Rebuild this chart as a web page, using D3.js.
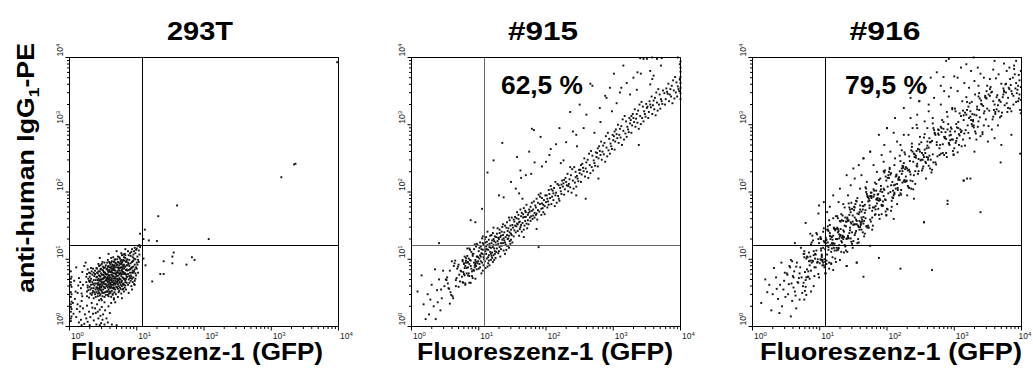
<!DOCTYPE html>
<html>
<head>
<meta charset="utf-8">
<script src="https://cdn.jsdelivr.net/npm/d3@7"></script>
<style>
  body { margin: 0; background: #fff; }
  text { font-family: "Liberation Sans", Arial, sans-serif; }
</style>
</head>
<body>
<div id="chart"></div>
<script>
// every event as [log10 GFP, log10 anti-human IgG1-PE]
var cells293T = [
  [0.27,0.61],[0.33,0.47],[0.25,0.74],[0.38,0.83],[0.31,0.55],[0.36,0.69],[0.29,0.80],[0.40,0.58],[0.26,0.52],[0.34,0.77],[0.39,0.44],[0.30,0.66],[0.37,0.51],[0.28,0.71],[0.35,0.86],[0.32,0.62],
  [0.40,0.73],[0.26,0.45],[0.38,0.64],[0.33,0.57],[0.29,0.68],[0.36,0.42],[0.31,0.79],[0.39,0.55],[0.27,0.85],[0.34,0.50],[0.37,0.75],[0.30,0.59],[0.25,0.66],[0.35,0.63],[0.32,0.71],[0.38,0.48],
  [0.28,0.54],[0.40,0.87],[0.33,0.82],[0.36,0.57],[0.29,0.43],[0.31,0.49],[0.39,0.69],[0.26,0.78],[0.34,0.66],[0.37,0.61],[0.30,0.74],[0.27,0.58],[0.35,0.53],[0.32,0.87],[0.38,0.78],[0.31,0.68],
  [0.36,0.80],[0.40,0.51],
  [0.44,0.62],[0.51,0.81],[0.42,0.45],[0.48,0.93],[0.53,0.57],[0.46,0.74],[0.41,0.86],[0.55,0.68],[0.49,0.50],[0.43,0.71],[0.52,0.95],[0.47,0.41],[0.54,0.78],[0.45,0.55],[0.50,0.66],[0.42,0.79],
  [0.48,0.60],[0.53,0.88],[0.46,0.48],[0.51,0.72],[0.44,0.90],[0.55,0.52],[0.49,0.84],[0.41,0.58],[0.47,0.67],[0.52,0.44],[0.45,0.82],[0.54,0.63],[0.43,0.53],[0.50,0.77],[0.48,0.39],[0.42,0.69],
  [0.53,0.74],[0.46,0.91],[0.51,0.59],[0.44,0.76],[0.55,0.85],[0.49,0.71],[0.47,0.54],[0.41,0.64],[0.52,0.67],[0.45,0.46],[0.50,0.89],[0.43,0.82],[0.54,0.47],[0.48,0.77],[0.46,0.63],[0.53,0.63],
  [0.42,0.56],[0.51,0.50],[0.44,0.68],[0.49,0.96],[0.55,0.72],[0.47,0.86],[0.41,0.74],[0.52,0.80],[0.45,0.60],[0.50,0.55],[0.43,0.93],[0.48,0.65],[0.54,0.91],[0.46,0.70],[0.51,0.64],[0.42,0.49],
  [0.53,0.51],[0.47,0.79],[0.44,0.57],[0.50,0.83],[0.55,0.60],[0.49,0.45],[0.41,0.80],[0.52,0.73],[0.45,0.75],[0.48,0.52],[0.54,0.69],[0.43,0.65],[0.46,0.85],[0.51,0.87],[0.47,0.58],[0.53,0.80],
  [0.42,0.62],[0.49,0.62],[0.55,0.77],[0.44,0.50],[0.50,0.71],[0.46,0.58],[0.52,0.58],[0.48,0.70],[0.45,0.69],[0.51,0.76],
  [0.57,0.66],[0.63,0.83],[0.59,0.49],[0.68,0.95],[0.56,0.78],[0.65,0.58],[0.61,0.92],[0.69,0.71],[0.58,0.55],[0.66,0.87],[0.62,0.44],[0.57,0.99],[0.64,0.66],[0.70,0.80],[0.60,0.73],[0.67,0.51],
  [0.56,0.61],[0.63,0.97],[0.59,0.84],[0.68,0.62],[0.61,0.57],[0.65,0.75],[0.58,0.90],[0.66,0.42],[0.62,0.69],[0.69,0.88],[0.57,0.47],[0.64,0.80],[0.60,0.64],[0.67,0.99],[0.56,0.86],[0.63,0.53],
  [0.70,0.67],[0.59,0.76],[0.65,0.91],[0.61,0.81],[0.68,0.55],[0.58,0.70],[0.66,0.64],[0.62,1.02],[0.57,0.58],[0.64,0.47],[0.69,0.78],[0.60,0.94],[0.67,0.72],[0.56,0.69],[0.63,0.62],[0.59,0.60],
  [0.65,0.84],[0.61,0.50],[0.68,0.83],[0.58,0.81],[0.66,0.96],[0.62,0.77],[0.70,0.59],[0.57,0.74],[0.64,0.92],[0.60,0.52],[0.67,0.65],[0.56,0.95],[0.63,0.71],[0.69,0.48],[0.59,0.67],[0.65,0.68],
  [0.61,0.65],[0.68,0.74],[0.58,0.63],[0.66,0.79],[0.62,0.86],[0.57,0.83],[0.64,0.57],[0.70,0.91],[0.60,0.82],[0.67,0.84],[0.56,0.52],[0.63,0.89],[0.59,0.96],[0.65,0.49],[0.61,0.73],[0.68,1.00],
  [0.58,0.45],[0.66,0.71],[0.62,0.59],[0.69,0.64],[0.57,0.89],[0.64,0.74],[0.60,0.58],[0.67,0.91],[0.56,0.72],[0.63,0.77],[0.65,1.03],[0.61,0.88],[0.68,0.68],[0.59,0.72],[0.66,0.56],[0.62,0.95],
  [0.70,0.75],[0.57,0.52],[0.64,0.86],[0.60,0.69],[0.67,0.58],[0.58,0.77],[0.65,0.62],[0.61,0.62],[0.69,0.94],[0.63,0.66],[0.66,0.89],[0.59,0.88],[0.62,0.81],[0.68,0.79],
  [0.72,0.69],[0.78,0.88],[0.74,0.53],[0.83,1.02],[0.71,0.82],[0.80,0.64],[0.76,0.97],[0.84,0.77],[0.73,0.60],[0.81,0.92],[0.77,0.49],[0.72,1.04],[0.79,0.73],[0.85,0.85],[0.75,0.78],[0.82,0.58],
  [0.71,0.66],[0.78,1.06],[0.74,0.91],[0.83,0.69],[0.76,0.62],[0.80,0.81],[0.73,0.95],[0.81,0.52],[0.77,0.75],[0.84,0.96],[0.72,0.56],[0.79,0.87],[0.75,0.70],[0.82,1.08],[0.71,0.92],[0.78,0.60],
  [0.85,0.74],[0.74,0.83],[0.80,0.99],[0.76,0.88],[0.83,0.61],[0.73,0.76],[0.81,0.71],[0.77,1.09],[0.72,0.63],[0.79,0.55],[0.84,0.84],[0.75,1.01],[0.82,0.79],[0.71,0.75],[0.78,0.68],[0.74,0.66],
  [0.80,0.90],[0.76,0.56],[0.83,0.89],[0.73,0.87],[0.81,1.03],[0.77,0.83],[0.85,0.65],[0.72,0.80],[0.79,0.97],[0.75,0.58],[0.82,0.70],[0.71,1.00],[0.78,0.78],[0.84,0.55],[0.74,0.72],[0.80,0.72],
  [0.76,0.70],[0.83,0.79],[0.73,0.69],[0.81,0.86],[0.77,0.93],[0.72,0.88],[0.79,0.63],[0.85,0.98],[0.75,0.87],[0.82,0.89],[0.71,0.58],[0.78,0.95],[0.74,1.03],[0.80,0.56],[0.76,0.80],[0.83,1.06],
  [0.73,0.51],[0.81,0.78],[0.77,0.66],[0.84,0.71],[0.72,0.96],[0.79,0.81],[0.75,0.65],[0.82,0.98],[0.71,0.71],[0.78,0.84],[0.80,1.07],[0.76,0.93],[0.83,0.66],[0.74,0.79],[0.81,0.62],[0.77,0.99],
  [0.85,0.91],[0.73,0.84],[0.79,0.91],[0.75,0.94],
  [0.87,0.78],[0.93,0.96],[0.89,0.65],[0.98,1.09],[0.86,0.91],[0.95,0.73],[0.91,1.05],[0.99,0.88],[0.88,0.70],[0.96,1.01],[0.92,0.60],[0.87,1.12],[0.94,0.83],[1.00,0.95],[0.90,0.85],[0.97,0.68],
  [0.86,0.74],[0.93,1.15],[0.89,0.99],[0.98,0.79],[0.91,0.76],[0.95,0.89],[0.88,1.06],[0.96,0.63],[0.92,0.87],[1.01,1.04],[0.87,0.62],[0.94,0.97],[0.90,0.80],[0.97,1.17],[0.86,1.00],[0.93,0.71],
  [1.02,0.99],[0.89,0.90],[0.95,1.07],[0.91,0.94],[0.99,0.76],[0.88,0.84],[0.96,0.82],[0.92,1.11],[1.03,1.13],[0.94,0.66],[1.00,0.86],[0.90,1.09],[0.97,0.92],[0.86,0.83],[0.93,0.80],[0.89,0.75],
  [0.98,1.00],[0.91,0.68],[1.04,1.07],[0.95,0.98],[0.87,0.95],[0.96,1.12],[0.92,0.74],[1.01,0.92],[0.88,0.93],[0.94,1.03],[0.99,1.14],[0.90,0.72],[1.05,1.18],[0.97,0.85],[1.02,1.20],[0.93,0.88],
  [0.98,0.71],[1.00,1.16],[0.95,0.80],[1.03,0.96],[0.91,0.86],[1.04,1.21],
  [0.14,0.72],[0.19,0.81],[0.22,0.90],[0.12,0.50],[0.20,0.62],[0.18,0.49],[0.45,1.02],[0.58,1.08],[0.70,1.12],[0.83,1.15],[0.93,0.55],[0.88,0.50],[0.78,0.42],[0.68,0.36],[0.72,0.44],[0.97,0.62],
  [1.02,0.80],[0.24,0.95],[0.10,0.88],[0.16,0.66],
  [0.08,0.41],[0.12,0.33],[0.15,0.22],[0.10,0.14],[0.18,0.38],[0.14,0.06],[0.20,0.27],[0.23,0.18],[0.17,0.10],[0.26,0.31],[0.29,0.22],[0.22,0.04],[0.31,0.14],[0.34,0.28],[0.36,0.09],[0.39,0.20],
  [0.41,0.33],[0.43,0.12],[0.45,0.25],[0.47,0.05],[0.50,0.18],[0.52,0.36],[0.48,0.29],[0.55,0.12],[0.44,0.39],[0.40,0.03],[0.33,0.35],[0.27,0.07],[0.19,0.45],[0.11,0.26],[0.06,0.19],[0.58,0.30],
  [0.53,0.24],[0.46,0.16],[0.38,0.27],[0.57,0.06],[0.62,0.35],[0.66,0.40],[0.25,0.12],[0.16,0.30],[0.09,0.52],[0.13,0.61],[0.07,0.68],[0.17,0.57],[0.05,0.35],[0.42,0.22],[0.35,0.19],[0.49,0.10],
  [0.60,0.20],
  [0.02,0.82],[0.03,0.74],[0.02,0.66],[0.03,0.59],[0.02,0.51],[0.02,0.44],[0.03,0.37],[0.02,0.29],[0.02,0.22],[0.03,0.15],[0.02,0.08],[0.02,0.62],[0.03,0.48],[0.02,0.33],[0.02,0.71],[0.03,0.26],
  [0.02,0.12],[0.30,0.02],[0.45,0.02],[0.52,0.03],[0.18,0.02],[0.63,0.03],[0.70,0.02],
  [3.98,3.93],[3.36,2.42],[3.34,2.41],[3.15,2.22],[1.60,1.80],[1.32,1.64],[1.12,1.44],[1.05,1.38],[1.10,1.30],[1.18,1.28],[1.30,1.27],[2.07,1.30],
  [1.55,1.10],[1.53,1.04],[1.40,0.97],[1.53,0.94],[1.82,1.03],[1.86,0.99],[1.74,0.92],[1.35,0.78],[1.40,0.78],[1.23,0.67],[1.13,0.91],[1.10,1.01]
];

var cells915 = [
  [0.15,0.76],[0.21,0.11],[0.36,0.11],[0.24,0.48],[0.30,0.62],[0.33,0.30],[0.38,0.54],[0.41,0.70],[0.45,0.42],[0.47,0.83],[0.28,0.40],[0.43,0.24],[0.49,0.60],[0.18,0.33],[0.41,1.24],[0.35,0.85],
  [0.09,0.52],[0.26,0.18],[0.44,0.55],[0.39,0.36],
  [0.58,0.51],[0.52,0.69],[0.71,0.77],[0.64,0.94],[0.55,0.57],[0.69,0.89],[0.61,0.45],[0.74,0.82],[0.57,0.83],[0.66,0.69],[0.53,0.73],[0.72,0.67],[0.60,0.97],[0.67,0.72],[0.51,0.70],[0.70,0.59],
  [0.63,0.90],[0.56,0.56],[0.73,0.83],[0.59,0.47],[0.68,0.86],[0.54,0.64],[0.65,0.98],[0.62,0.42],[0.75,0.74],[0.57,0.34],[0.70,0.92],[0.66,0.60],
  [0.83,0.95],[0.77,0.81],[0.96,1.19],[0.88,0.65],[0.79,0.87],[0.92,0.84],[0.85,1.01],[0.99,0.97],[0.76,0.99],[0.90,0.75],[0.81,0.95],[0.94,0.88],[0.87,1.14],[0.78,0.78],[0.97,1.04],[0.84,0.76],
  [0.91,1.08],[0.80,0.62],[0.95,0.99],[0.86,0.75],[0.98,1.21],[0.82,0.79],[0.89,1.11],[0.93,0.95],[0.76,0.66],[0.88,0.98],[0.84,0.88],[0.97,1.23],[0.79,0.76],[0.92,1.08],[0.86,0.65],[0.99,1.03],
  [0.81,1.02],[0.95,0.93],[0.78,0.94],[0.90,0.82],[0.83,1.16],[0.96,0.96],[0.87,0.99],[0.77,0.65],[0.93,1.15],[0.85,0.79],[0.98,1.04],[0.80,0.64],[0.91,1.05],[0.82,0.87],[0.94,1.22],[0.89,0.86],
  [0.76,0.97],[0.97,0.85],[0.84,0.96],[0.88,0.90],[0.79,1.04],[0.95,0.71],[0.86,0.93],[0.93,0.83],[0.81,0.98],[0.98,0.94],[0.83,1.05],[0.91,0.72],[0.78,0.93],[0.96,0.90],[0.86,1.16],[0.94,0.91],
  [0.80,0.90],
  [1.07,1.21],[1.02,0.88],[1.19,1.05],[1.11,1.33],[1.04,1.09],[1.23,1.27],[1.14,0.94],[1.09,1.15],[1.21,1.39],[1.01,1.01],[1.16,1.18],[1.06,0.83],[1.24,1.12],[1.12,1.26],[1.03,1.19],[1.18,0.99],
  [1.08,1.07],[1.22,1.21],[1.13,1.41],[1.05,0.95],[1.20,1.10],[1.10,0.87],[1.00,1.12],[1.15,1.29],[1.25,1.02],[1.07,1.03],[1.17,1.35],[1.02,1.25],[1.23,1.16],[1.11,1.08],[1.04,0.79],[1.19,1.24],
  [1.14,1.14],[1.09,1.30],[1.21,0.96],[1.06,1.14],[1.16,0.91],[1.01,0.93],[1.24,1.34],[1.12,1.01],[1.03,1.04],[1.18,1.17],[1.08,1.23],[1.22,1.06],[1.13,0.89],[1.05,1.31],[1.20,1.28],[1.10,1.12],
  [1.00,0.86],[1.15,1.06],[1.25,1.25],[1.07,0.91],[1.17,1.11],[1.02,1.06],[1.23,0.99],[1.11,1.19],[1.04,1.15],[1.19,1.36],[1.14,1.03],[1.09,0.97],[1.21,1.18],[1.06,1.24],[1.16,1.23],[1.01,1.17],
  [1.24,1.08],[1.12,1.15],[1.03,0.97],[1.18,1.08],[1.08,1.00],[1.22,1.30],[1.13,1.21],[1.05,1.08],[1.20,1.02],[1.10,1.25],[1.15,0.98],
  [1.31,1.18],[1.27,1.38],[1.44,1.31],[1.36,1.52],[1.29,1.09],[1.48,1.44],[1.39,1.25],[1.33,1.35],[1.46,1.58],[1.26,1.21],[1.41,1.14],[1.35,1.29],[1.49,1.36],[1.28,1.46],[1.43,1.42],[1.32,1.04],
  [1.38,1.40],[1.47,1.23],[1.30,1.30],[1.42,1.55],[1.34,1.20],[1.45,1.35],[1.26,1.11],[1.40,1.33],[1.50,1.51],[1.37,1.13],[1.29,1.32],[1.44,1.20],[1.31,1.44],[1.48,1.29],[1.36,1.36],[1.27,1.16],
  [1.41,1.47],[1.33,1.24],[1.46,1.40],[1.39,1.08],[1.28,1.27],[1.43,1.30],[1.35,1.48],[1.49,1.62],[1.32,1.33],[1.45,1.17],[1.38,1.28],[1.30,1.12],[1.47,1.50],[1.40,1.22],[1.34,1.41],[1.26,1.33],
  [1.42,1.36],[1.37,1.31],[1.50,1.25],[1.29,1.23],[1.44,1.46],[1.33,1.15],[1.39,1.50],[1.48,1.38],[1.36,1.24],[1.31,1.39],[1.46,1.27],[1.42,1.20],
  [1.56,1.49],[1.52,1.34],[1.69,1.72],[1.61,1.56],[1.54,1.63],[1.73,1.58],[1.64,1.41],[1.58,1.52],[1.71,1.81],[1.51,1.47],[1.66,1.62],[1.60,1.35],[1.74,1.69],[1.53,1.56],[1.68,1.50],[1.57,1.70],
  [1.63,1.64],[1.72,1.46],[1.55,1.40],[1.67,1.76],[1.59,1.60],[1.70,1.63],[1.62,1.48],[1.52,1.59],[1.65,1.54],[1.75,1.74],[1.58,1.42],[1.69,1.57],[1.54,1.50],[1.64,1.69],[1.73,1.66],[1.60,1.55],
  [1.67,1.44],[1.56,1.61],[1.71,1.53],[1.62,1.74],[1.53,1.43],[1.66,1.67],[1.74,1.52],[1.59,1.66],[1.63,1.51],[1.70,1.70],[1.57,1.53],[1.68,1.63],[1.61,1.45],
  [1.81,1.74],[1.77,1.57],[1.94,1.91],[1.86,1.68],[1.79,1.84],[1.98,1.79],[1.89,1.96],[1.83,1.62],[1.96,1.70],[1.76,1.71],[1.91,1.82],[1.85,1.77],[1.99,1.95],[1.78,1.64],[1.93,1.66],[1.82,1.86],
  [1.88,1.73],[1.97,1.88],[1.80,1.60],[1.92,1.98],[1.84,1.80],[1.95,1.76],[1.87,1.59],[1.77,1.78],[1.90,1.71],[2.00,1.85],[1.83,1.69],[1.94,1.83],[1.79,1.72],[1.86,1.90],[1.98,1.67],[1.81,1.65],
  [1.91,1.93],[1.76,1.62],[1.88,1.84],[1.96,1.81],[1.85,1.66],[1.93,1.75],
  [2.06,1.91],[2.02,1.77],[2.19,2.10],[2.11,1.88],[2.04,2.03],[2.23,1.97],[2.14,2.15],[2.08,1.82],[2.21,2.06],[2.01,1.95],[2.16,1.84],[2.10,2.02],[2.24,2.17],[2.03,1.86],[2.18,1.94],[2.07,2.09],
  [2.13,1.79],[2.22,2.01],[2.05,1.97],[2.17,2.12],[2.09,1.93],[2.20,1.87],[2.12,2.06],[2.02,1.90],[2.15,1.99],[2.25,2.08],[2.08,2.04],[2.19,1.90],[2.04,1.81],[2.11,1.98],[2.23,2.11],[2.14,1.95],
  [2.31,2.10],[2.27,1.96],[2.44,2.30],[2.36,2.07],[2.29,2.21],[2.48,2.16],[2.39,2.34],[2.33,2.01],[2.46,2.24],[2.26,2.13],[2.41,2.05],[2.35,2.19],[2.49,2.33],[2.28,2.04],[2.43,2.14],[2.32,2.27],
  [2.38,1.99],[2.47,2.20],[2.30,2.15],[2.42,2.37],[2.34,2.12],[2.45,2.08],[2.37,2.25],[2.27,2.18],[2.40,2.17],[2.50,2.28],[2.33,2.09],[2.44,2.22],
  [2.56,2.31],[2.52,2.15],[2.69,2.54],[2.61,2.30],[2.54,2.42],[2.73,2.39],[2.64,2.57],[2.58,2.23],[2.71,2.47],[2.51,2.33],[2.66,2.28],[2.60,2.44],[2.74,2.59],[2.53,2.26],[2.68,2.37],[2.57,2.50],
  [2.63,2.21],[2.72,2.43],[2.55,2.36],[2.67,2.61],[2.59,2.35],[2.70,2.32],[2.62,2.48],[2.52,2.40],[2.65,2.40],[2.75,2.52],
  [2.81,2.55],[2.77,2.38],[2.94,2.79],[2.86,2.56],[2.79,2.68],[2.98,2.64],[2.89,2.83],[2.83,2.48],[2.96,2.72],[2.76,2.58],[2.91,2.53],[2.85,2.69],[2.99,2.85],[2.78,2.50],[2.93,2.62],[2.82,2.75],
  [2.88,2.45],[2.97,2.68],[2.80,2.61],[2.92,2.88],[2.84,2.60],[2.95,2.57],[2.87,2.73],[2.77,2.65],[2.90,2.66],[3.00,2.77],
  [3.06,2.80],[3.02,2.63],[3.19,3.05],[3.11,2.81],[3.04,2.93],[3.23,2.89],[3.14,3.08],[3.08,2.73],[3.21,2.97],[3.01,2.83],[3.16,2.78],[3.10,2.94],[3.24,3.10],[3.03,2.75],[3.18,2.87],[3.07,3.00],
  [3.13,2.70],[3.22,2.93],[3.05,2.86],[3.17,3.13],[3.09,2.85],[3.20,2.82],[3.12,2.98],[3.02,2.90],[3.15,2.91],[3.25,3.02],
  [3.31,3.04],[3.27,2.88],[3.44,3.27],[3.36,3.03],[3.29,3.16],[3.48,3.12],[3.39,3.30],[3.33,2.97],[3.46,3.20],[3.26,3.07],[3.41,3.01],[3.35,3.16],[3.49,3.31],[3.28,2.99],[3.43,3.10],[3.32,3.23],
  [3.38,2.94],[3.47,3.16],[3.30,3.10],[3.42,3.34],[3.34,3.09],[3.45,3.05],[3.37,3.21],[3.27,3.13],[3.40,3.13],[3.50,3.25],
  [3.56,3.26],[3.52,3.10],[3.69,3.45],[3.61,3.23],[3.54,3.35],[3.73,3.31],[3.64,3.48],[3.58,3.16],[3.71,3.38],[3.51,3.27],[3.66,3.21],[3.60,3.36],[3.74,3.51],[3.53,3.19],[3.68,3.30],[3.57,3.42],
  [3.63,3.14],[3.72,3.35],[3.55,3.30],[3.67,3.53],[3.59,3.29],[3.70,3.24],[3.62,3.40],[3.65,3.33],
  [3.81,3.46],[3.77,3.30],[3.94,3.63],[3.86,3.42],[3.79,3.54],[3.98,3.50],[3.89,3.66],[3.83,3.35],[3.96,3.57],[3.76,3.47],[3.91,3.39],[3.85,3.53],[3.99,3.68],[3.78,3.38],[3.93,3.48],[3.82,3.61],
  [3.88,3.32],[3.97,3.53],[3.80,3.49],[3.92,3.71],[3.84,3.45],[3.95,3.42],[3.87,3.58],[3.90,3.51],
  [4.00,3.62],[4.00,3.71],[4.00,3.79],[4.00,3.85],[4.00,3.55],[3.99,3.90],[4.00,3.47],[4.00,3.94],[3.99,3.67],[4.00,3.38],
  [3.40,3.99],[3.50,3.98],[3.58,4.00],[3.72,3.99],[3.96,4.00],[3.65,3.98],
  [1.82,2.92],[1.35,2.73],[1.92,2.82],[1.57,2.52],[1.22,2.47],[2.36,3.19],[2.81,3.04],[3.36,3.78],[3.60,3.73],[2.69,3.58],[2.88,3.43],[2.07,2.64],[2.26,2.47],[2.36,2.37],[1.62,2.32],[1.13,2.29],
  [2.50,3.30],[2.20,2.95],[1.75,2.60],[1.48,2.15],[1.30,1.95],[1.05,1.75],[0.95,1.55],[1.60,1.98],[2.45,2.85],[2.98,3.20],[3.12,3.55],[3.25,3.45],[2.60,3.15],[2.00,2.45],[1.70,2.25],[3.55,3.60],
  [0.88,1.58],[1.37,1.92],[1.55,2.05],[1.63,2.21],[1.78,2.27],[1.83,2.44],[1.79,2.94],[1.94,2.38],[2.05,2.55],[2.15,2.71],[2.30,2.74],[2.40,2.90],[2.56,2.95],[2.66,3.61],[2.80,3.25],[2.90,3.40],
  [2.95,3.55],[3.01,3.76],[3.10,3.48],[3.20,3.62],[3.15,3.88],[3.30,3.70],[3.41,3.76],[3.45,3.98],[3.55,3.80],[3.71,3.88],[3.58,3.68],[1.06,1.34],[1.22,1.47],[1.45,1.62],[1.65,1.90],[2.22,2.43],
  [2.46,2.68],[2.72,2.88],[3.05,3.32],[3.35,3.52],
  [1.89,1.18],[2.59,1.90],[2.78,2.20],[3.38,2.70],[1.67,1.33],[1.86,1.45],[2.45,1.95]
];

var cells916 = [
  [0.13,0.35],[0.22,0.51],[0.28,0.24],[0.32,0.87],[0.35,0.73],[0.38,0.41],[0.41,0.62],[0.44,0.30],[0.46,0.55],[0.48,0.80],[0.25,0.62],[0.36,0.56],[0.43,0.95],[0.49,0.44],[0.30,0.48],[0.47,0.68],
  [0.40,0.20],[0.19,0.70],
  [0.63,0.52],[0.71,0.88],[0.54,0.63],[0.59,0.97],[0.67,0.66],[0.51,0.79],[0.74,0.50],[0.61,0.73],[0.56,0.88],[0.69,0.72],[0.65,0.89],[0.53,0.48],[0.72,1.17],[0.58,0.64],[0.62,0.82],[0.75,0.60],
  [0.55,0.90],[0.68,0.65],[0.60,0.75],[0.64,0.46],[0.52,0.77],[0.70,0.79],[0.57,0.99],[0.73,0.73],[0.66,0.95],[0.57,0.15],[0.63,1.24],[0.65,0.27],[0.59,0.38],[0.70,0.40],[0.61,0.58],
  [0.95,1.13],[0.83,0.74],[0.90,1.28],[0.78,0.81],[0.86,0.98],[0.98,0.78],[0.81,1.04],[0.92,0.88],[0.76,1.08],[0.88,0.95],[0.99,0.73],[0.84,1.10],[0.94,1.07],[0.80,0.73],[0.89,1.35],[0.96,0.95],
  [0.77,1.08],[0.85,0.71],[0.93,1.01],[0.82,1.03],[0.97,1.00],[0.87,1.22],[0.79,0.69],[0.91,1.06],[1.00,0.94],
  [0.81,0.85],[0.77,1.12],[0.94,0.88],[0.86,1.04],[0.79,0.59],[0.98,1.30],[0.89,0.98],[0.83,0.82],[0.96,1.37],[0.76,0.65],[0.91,1.12],[0.85,0.91],[0.99,1.24],[0.78,0.53],[0.93,1.08],[0.82,0.74],
  [0.88,1.25],[0.97,0.96],[0.80,1.01],[0.92,0.75],[0.84,0.97],[0.95,1.39],[0.87,0.83],[0.77,1.03],[0.90,0.97],
  [0.79,1.54],[0.98,1.68],[0.99,1.80],[0.86,1.38],[0.80,0.47],[0.77,0.40],[0.87,0.52],[0.91,0.60],
  [1.06,0.91],[1.02,1.16],[1.19,1.21],[1.11,1.44],[1.04,0.99],[1.23,1.43],[1.14,0.86],[1.08,1.15],[1.21,1.46],[1.01,1.00],[1.16,1.34],[1.10,0.98],[1.24,1.64],[1.03,1.05],[1.18,1.33],[1.07,0.88],
  [1.13,1.42],[1.22,1.13],[1.05,1.17],[1.17,0.94],[1.09,1.28],[1.20,1.24],[1.12,1.49],[1.02,0.99],[1.15,1.39],
  [1.13,1.14],[1.21,1.47],[1.04,0.97],[1.09,1.24],[1.17,0.93],[1.01,1.33],[1.24,1.30],[1.11,1.07],[1.06,1.46],[1.19,1.03],[1.15,1.35],[1.03,1.07],[1.22,1.45],[1.08,0.79],[1.12,1.25],[1.25,1.13],
  [1.05,1.41],[1.18,1.16],[1.10,1.29],[1.14,0.95],[1.02,1.13],[1.20,1.61],[1.07,1.00],[1.24,1.45],[1.16,1.21],
  [1.20,1.35],[1.08,0.96],[1.15,1.51],[1.03,1.03],[1.11,1.20],[1.23,1.01],[1.06,1.27],[1.17,1.11],[1.01,1.31],[1.13,1.18],[1.24,0.96],[1.09,1.32],[1.19,1.29],[1.05,0.95],[1.14,1.58],[1.21,1.17],
  [1.02,1.30],[1.10,0.93],[1.18,1.24],[1.07,1.25],[1.22,1.23],[1.12,1.44],[1.04,0.91],[1.16,1.30],[1.25,1.17],
  [1.11,1.70],[1.06,1.85],[1.15,1.78],[1.20,0.84],[1.09,0.79],
  [1.38,1.19],[1.46,1.55],[1.29,1.31],[1.34,1.65],[1.42,1.33],[1.26,1.47],[1.49,1.17],[1.36,1.41],[1.31,1.56],[1.44,1.39],[1.40,1.56],[1.28,1.16],[1.47,1.84],[1.33,1.32],[1.37,1.50],[1.50,1.27],
  [1.30,1.57],[1.43,1.31],[1.35,1.43],[1.39,1.13],[1.27,1.45],[1.45,1.47],[1.32,1.67],[1.48,1.40],[1.41,1.62],
  [1.45,1.43],[1.33,1.58],[1.40,1.30],[1.28,1.42],[1.36,1.10],[1.48,1.75],[1.31,1.36],[1.42,1.35],[1.26,1.64],[1.38,1.20],[1.49,1.65],[1.34,1.35],[1.44,1.66],[1.30,0.99],[1.39,1.49],[1.46,1.31],
  [1.27,1.61],[1.35,1.30],[1.43,1.58],[1.32,1.11],[1.47,1.53],[1.37,1.77],[1.29,1.21],[1.41,1.60],[1.50,1.51],
  [1.31,1.45],[1.27,1.14],[1.44,1.77],[1.36,1.33],[1.29,1.37],[1.48,1.23],[1.39,1.56],[1.33,1.25],[1.46,1.70],[1.26,1.30],[1.41,1.11],[1.35,1.57],[1.49,1.56],[1.28,1.17],[1.43,1.83],[1.32,1.27],
  [1.38,1.62],[1.47,1.26],[1.30,1.34],[1.42,1.57],[1.34,1.34],[1.45,1.74],[1.37,1.21],[1.27,1.40],[1.40,1.31],
  [1.35,1.82],[1.42,1.95],[1.30,2.05],[1.28,1.85],[1.40,2.25],[1.40,0.90],[1.46,2.10],
  [1.70,1.49],[1.58,1.67],[1.65,1.63],[1.53,1.82],[1.61,1.51],[1.73,1.90],[1.56,1.24],[1.67,1.69],[1.51,1.73],[1.63,1.56],[1.74,1.87],[1.59,1.44],[1.69,2.05],[1.55,1.52],[1.64,1.74],[1.71,1.47],
  [1.52,1.77],[1.60,1.48],[1.68,1.73],[1.57,1.30],[1.72,1.86],[1.62,1.62],[1.54,1.87],[1.66,1.57],[1.75,1.94],
  [1.56,1.68],[1.52,1.36],[1.69,2.00],[1.61,1.55],[1.54,1.59],[1.73,1.47],[1.64,1.79],[1.58,1.48],[1.71,1.94],[1.51,1.52],[1.66,1.34],[1.60,1.80],[1.74,1.80],[1.53,1.39],[1.68,2.07],[1.57,1.50],
  [1.63,1.85],[1.72,1.50],[1.55,1.57],[1.67,1.81],[1.59,1.57],[1.70,1.97],[1.62,1.44],[1.52,1.62],[1.65,1.53],
  [1.63,1.59],[1.71,1.93],[1.54,1.42],[1.59,1.70],[1.67,1.38],[1.51,1.78],[1.74,1.76],[1.61,1.53],[1.56,1.91],[1.69,1.49],[1.65,1.79],[1.53,1.52],[1.72,1.92],[1.58,1.25],[1.62,1.71],[1.75,1.59],
  [1.55,1.86],[1.68,1.61],[1.60,1.74],[1.64,1.40],
  [1.65,0.74],[1.55,0.95],[1.62,2.25],[1.58,2.40],[1.50,2.35],[1.65,2.50],[1.60,2.05],[1.70,2.15],
  [1.81,1.77],[1.77,1.99],[1.94,1.80],[1.86,1.96],[1.79,1.50],[1.98,2.23],[1.89,1.90],[1.83,1.74],[1.96,2.29],[1.76,1.56],[1.91,2.04],[1.85,1.83],[1.99,2.17],[1.78,1.44],[1.93,2.00],[1.82,1.66],
  [1.88,2.18],[1.97,1.89],[1.80,1.93],[1.92,1.67],[1.84,1.89],[1.95,2.31],[1.87,1.75],[1.77,1.94],[1.90,1.88],
  [1.88,1.66],[1.96,2.03],[1.79,1.77],[1.84,2.12],[1.92,1.80],[1.76,1.93],[1.99,1.65],[1.86,1.88],[1.81,2.02],[1.94,1.86],[1.90,2.01],[1.78,1.62],[1.97,2.32],[1.83,1.79],[1.87,1.97],[2.00,1.75],
  [1.80,2.04],[1.93,1.79],[1.85,1.90],[1.89,1.60],[1.77,1.91],[1.95,1.94],[1.82,2.14],[1.98,1.88],[1.91,2.09],
  [1.95,2.05],[1.83,1.67],[1.90,2.20],[1.78,1.72],[1.86,1.91],[1.98,1.71],[1.81,1.96],[1.92,1.81],[1.76,1.99],[1.88,1.87],[1.99,1.66],[1.84,2.02],
  [1.88,1.02],[1.75,1.20],[1.80,2.40],[1.92,2.55],[1.85,2.30],[1.96,2.70],[1.88,2.85],[1.95,2.45],[1.75,2.60],
  [2.13,2.23],[2.21,2.03],[2.04,2.34],[2.09,2.02],[2.17,2.20],[2.01,1.74],[2.24,2.38],[2.11,1.99],[2.06,2.28],[2.19,2.18],[2.15,1.82],[2.03,2.21],[2.22,2.27],[2.08,1.92],[2.12,2.50],[2.25,2.16],
  [2.05,2.26],[2.18,1.95],[2.10,2.10],[2.14,2.26],[2.02,1.98],[2.20,2.46],[2.07,1.87],[2.23,2.31],[2.16,2.03],
  [2.20,1.98],[2.08,2.15],[2.15,2.12],[2.03,2.30],[2.11,1.97],[2.23,2.39],[2.06,1.72],[2.17,2.18],[2.01,2.21],[2.13,2.05],[2.24,2.36],[2.09,1.91],[2.19,2.54],[2.05,2.00],[2.14,2.24],[2.21,1.96],
  [2.02,2.25],[2.10,1.95],[2.18,2.22],[2.07,1.78],[2.22,2.35],[2.12,2.11],[2.04,2.36],[2.16,2.06],[2.25,2.43],
  [2.11,2.40],[2.06,2.10],[2.19,2.31],[2.01,2.08],[2.23,2.14],
  [2.20,0.86],[2.05,2.60],[2.15,2.75],[2.22,2.62],[2.10,2.88],[2.00,2.95],[2.12,3.10],[2.20,2.70],
  [2.45,2.38],[2.33,2.53],[2.40,2.25],[2.28,2.37],[2.36,2.05],[2.48,2.71],[2.31,2.32],[2.42,2.31],[2.26,2.59],[2.38,2.16],[2.49,2.60],[2.34,2.30],[2.44,2.61],[2.30,1.95],[2.39,2.45],[2.46,2.27],
  [2.27,2.56],[2.35,2.26],[2.43,2.54],[2.32,2.07],[2.47,2.49],[2.37,2.72],[2.29,2.16],[2.41,2.56],[2.50,2.47],
  [2.31,2.09],[2.27,2.34],[2.44,2.39],[2.36,2.62],[2.29,2.17],[2.48,2.63],[2.39,2.04],[2.33,2.33],[2.46,2.64],[2.26,2.18],[2.41,2.52],[2.35,2.17],[2.49,2.82],[2.28,2.23],[2.43,2.51],[2.33,2.06],
  [2.38,2.60],[2.47,2.31],[2.30,2.35],[2.42,2.12],[2.34,2.46],[2.45,2.42],[2.37,2.67],[2.27,2.15],[2.40,2.57],
  [2.25,3.25],[2.35,3.40],[2.45,3.15],[2.32,2.85],[2.44,3.00],[2.38,2.95],[2.48,3.35],
  [2.56,2.63],[2.52,2.32],[2.69,2.95],[2.61,2.51],[2.54,2.55],[2.73,2.41],[2.64,2.74],[2.58,2.43],[2.71,2.88],[2.51,2.48],[2.66,2.29],[2.60,2.75],[2.74,2.74],[2.53,2.35],[2.68,3.02],[2.57,2.45],
  [2.63,2.80],[2.72,2.44],[2.55,2.52],[2.67,2.76],[2.59,2.52],[2.70,2.92],[2.62,2.39],[2.52,2.58],[2.65,2.48],
  [2.63,2.54],[2.71,2.87],[2.54,2.38],[2.59,2.65],[2.67,2.33],[2.51,2.74],[2.74,2.70],[2.61,2.48],[2.56,2.86],[2.69,2.44],[2.65,2.74],[2.53,2.48],[2.72,2.85],[2.58,2.20],[2.62,2.66],[2.75,2.53],
  [2.55,2.81],[2.68,2.56],[2.60,2.69],[2.64,2.35],[2.57,2.58],
  [2.67,0.84],[2.56,3.05],[2.62,3.20],[2.68,3.10],[2.74,3.78],[2.60,2.95],[2.58,3.55],[2.65,3.70],[2.52,3.62],[2.55,1.55],
  [2.88,2.58],[2.96,2.94],[2.79,2.70],[2.84,3.04],[2.92,2.72],[2.76,2.87],[2.99,2.55],[2.86,2.80],[2.81,2.95],[2.94,2.77],[2.90,2.93],[2.78,2.55],[2.97,3.23],[2.83,2.71],[2.87,2.89],[3.00,2.65],
  [2.80,2.97],[2.93,2.70],[2.85,2.82],[2.89,2.52],[2.77,2.85],[2.95,2.85],[2.82,3.07],[2.98,2.78],[2.91,3.01],
  [2.95,2.96],[2.83,2.58],[2.90,3.12],[2.78,2.65],[2.86,2.82],[2.98,2.61],[2.81,2.89],[2.92,2.73],[2.76,2.93],[2.88,2.79],[2.99,2.56],[2.84,2.94],[2.94,2.90],[2.80,2.57],[2.89,3.19],[2.96,2.78],
  [2.77,2.92],[2.85,2.55],[2.93,2.84],
  [2.90,1.87],[2.84,3.71],[2.80,3.30],[2.92,3.42],[2.97,3.25],[2.88,3.95],[2.80,3.58],[2.92,3.98],[2.90,1.82],
  [3.20,2.99],[3.08,3.17],[3.15,2.87],[3.03,3.01],[3.11,2.68],[3.23,3.32],[3.06,2.95],[3.17,2.92],[3.01,3.24],[3.13,2.78],[3.24,3.20],[3.09,2.93],[3.19,3.22],[3.05,2.59],[3.14,3.07],[3.21,2.88],
  [3.02,3.20],[3.10,2.89],[3.18,3.15],[3.07,2.70],[3.22,3.10],[3.12,3.35],[3.04,2.80],[3.16,3.18],[3.25,3.07],
  [3.06,3.04],[3.02,2.73],[3.19,3.34],[3.11,2.91],[3.04,2.96],[3.23,2.80],[3.14,3.14],[3.08,2.84],[3.21,3.27],[3.01,2.90],[3.16,2.69],[3.10,3.13],[3.24,3.12],[3.03,2.76],[3.18,3.41],[3.07,2.86],
  [3.13,3.21],
  [3.19,2.20],[3.24,2.20],[3.14,2.17],[3.05,3.50],[3.15,3.62],[3.22,3.55],[3.10,3.85],[3.00,3.72],[3.18,3.90],
  [3.31,2.90],[3.27,3.16],[3.44,3.17],[3.36,3.42],[3.29,2.99],[3.48,3.39],[3.39,2.83],[3.33,3.14],[3.46,3.41],[3.26,3.01],[3.41,3.30],[3.35,2.97],[3.49,3.58],[3.28,3.05],[3.43,3.28],[3.32,2.87],
  [3.38,3.39],[3.47,3.08],[3.30,3.15],[3.42,2.89],[3.34,3.27],[3.45,3.20],[3.37,3.47],[3.27,2.98],[3.40,3.36],
  [3.38,3.11],[3.46,3.43],[3.29,2.96],[3.34,3.23],[3.42,2.86],[3.26,3.34],[3.49,3.24],[3.36,3.05],[3.31,3.45],[3.44,2.99],[3.40,3.31],[3.28,3.07],[3.47,3.40],[3.33,2.78],[3.37,3.22],
  [3.29,4.00],[3.39,1.70],[3.39,3.76],[3.30,3.65],[3.44,3.70],[3.36,3.58],[3.30,2.60],[3.48,3.50],[3.35,3.85],
  [3.63,3.41],[3.71,3.18],[3.54,3.56],[3.59,3.22],[3.67,3.37],[3.51,2.98],[3.74,3.51],[3.61,3.19],[3.56,3.49],[3.69,3.34],[3.65,2.99],[3.53,3.43],[3.72,3.41],[3.58,3.12],[3.62,3.69],[3.75,3.29],
  [3.55,3.48],[3.68,3.11],[3.60,3.30],[3.64,3.44],[3.52,3.21],[3.70,3.61],[3.57,3.08],[3.73,3.45],[3.66,3.20],
  [3.70,3.13],[3.58,3.35],[3.65,3.29],[3.53,3.53],[3.61,3.16],[3.73,3.54],[3.56,2.93],[3.67,3.36],[3.51,3.45],[3.63,3.23],[3.74,3.49],
  [3.69,2.44],[3.74,3.91],[3.58,3.82],[3.66,3.75],[3.53,3.68],[3.70,2.70],[3.50,2.75],[3.60,3.95],
  [3.95,3.58],[3.83,3.24],[3.90,3.75],[3.78,3.32],[3.86,3.46],[3.98,3.22],[3.81,3.55],[3.92,3.34],[3.76,3.60],[3.88,3.43],[3.99,3.17],[3.84,3.59],[3.94,3.52],[3.80,3.25],[3.89,3.83],[3.96,3.39],
  [3.77,3.61],[3.85,3.20],[3.93,3.47],[3.82,3.53],[3.97,3.45],[3.87,3.70],[3.79,3.19],[3.91,3.54],[3.99,3.37],
  [3.80,3.40],[3.92,3.62],[3.85,3.50],[3.97,3.66],[3.77,3.48],[3.88,3.30],[3.95,3.35],[3.83,3.68],[3.99,3.56],
  [3.98,2.57],[3.89,3.88],[3.82,3.85],[3.92,3.95],[3.78,3.80],[3.85,2.85],[3.96,3.74],[3.99,3.80],
  [1.20,1.95],[1.65,2.50],[1.75,2.60],[2.00,2.95],[2.48,3.35],[2.45,2.95],[2.25,2.85],[2.70,3.40],[2.95,3.55],[3.05,3.70],[2.85,3.50],[3.25,3.80],[1.52,2.20],[2.62,3.30],[2.35,3.10],
  [1.40,0.90],[1.55,0.95],[2.55,1.55],[3.14,2.17],[2.40,1.90],[3.60,2.80],[2.10,1.60]
];

var titles = ["293T", "#915", "#916"];
var percents = [null, "62,5 %", "79,5 %"];
var gate = [1.08, 1.20];          // quadrant marker, log10 units
var decades = [0, 1, 2, 3, 4];
var xTitle = "Fluoreszenz-1 (GFP)";

// layout
var W = 1033, H = 378, size = 269, plotTop = 57;
var lefts = [69, 411, 752];
var gateColors = ["#000", "#666", "#000"];
var titleBox = [[200, 66], [543, 70], [885, 71]];     // centre x, width
var xTitleBox = [[197, 252], [545, 256], [891, 262]];
var pctBox = [null, [542, 82], [886, 82]];

var svg = d3.select("#chart").append("svg")
    .attr("width", W)
    .attr("height", H);

var x = d3.scaleLinear().domain([0, 4]).range([0, size]);
var y = d3.scaleLinear().domain([0, 4]).range([size, 0]);

// log minor ticks 2..9 inside each decade
var minor = [];
decades.slice(0, 4).forEach(function(d) {
  d3.range(2, 10).forEach(function(k) { minor.push(d + Math.log10(k)); });
});

// bold labels are stretched a bit in the original, scale to the measured width
function fit(sel, cx, cy, width, rot) {
  var len = sel.node().getComputedTextLength();
  sel.attr("text-anchor", "middle")
    .attr("transform", "translate(" + cx + "," + cy + ")" + (rot ? " rotate(-90)" : "") +
          " scale(" + (width / len) + ",1)");
}

function power(sel) {
  sel.text("10").append("tspan")
    .attr("font-size", 6)
    .attr("dy", -3.5)
    .text(function(d) { return d; });
}

[cells293T, cells915, cells916].forEach(function(cells, i) {
  var g = svg.append("g")
      .attr("transform", "translate(" + (lefts[i] + 0.5) + "," + (plotTop + 0.5) + ")");

  g.selectAll("rect.ev")
    .data(cells)
    .join("rect")
      .attr("class", "ev")
      .attr("x", function(d) { return x(d[0]) - 0.95; })
      .attr("y", function(d) { return y(d[1]) - 0.95; })
      .attr("width", 1.9)
      .attr("height", 1.9)
      .attr("fill", "#111");

  // quadrant lines
  g.append("line")
    .attr("x1", Math.round(x(gate[0]))).attr("x2", Math.round(x(gate[0])))
    .attr("y1", 0).attr("y2", size)
    .attr("stroke", gateColors[i]);
  g.append("line")
    .attr("x1", 0).attr("x2", size)
    .attr("y1", Math.round(y(gate[1]))).attr("y2", Math.round(y(gate[1])))
    .attr("stroke", gateColors[i]);

  // x axis
  var xa = g.append("g")
      .attr("transform", "translate(0," + size + ")")
      .call(d3.axisBottom(x).tickValues(decades).tickSize(4).tickSizeOuter(0).offset(0));
  g.append("g")
      .attr("transform", "translate(0," + size + ")")
      .call(d3.axisBottom(x).tickValues(minor).tickSize(2.5).tickFormat("").offset(0))
      .select(".domain").remove();
  // the last label would run past the page edge on the right-hand panel
  var room = W - (lefts[i] + size) - 15;
  xa.selectAll(".tick text")
      .attr("x", function(d) { return d === 4 ? Math.min(1.5, room) : 1.5; })
      .attr("y", 12.5).attr("dy", null)
      .attr("text-anchor", "start")
      .call(power);

  // y axis
  var ya = g.append("g")
      .call(d3.axisLeft(y).tickValues(decades).tickSize(4).tickSizeOuter(0).offset(0));
  g.append("g")
      .call(d3.axisLeft(y).tickValues(minor).tickSize(2.5).tickFormat("").offset(0))
      .select(".domain").remove();
  ya.selectAll(".tick text")
      .attr("x", 0).attr("y", 0).attr("dy", null)
      .attr("text-anchor", "start")
      .attr("transform", "translate(-6.5,-1) rotate(-90)")
      .call(power);

  g.selectAll(".tick text")
      .attr("font-size", 8.5)
      .attr("font-family", "'Liberation Sans', Arial, sans-serif")
      .attr("fill", "#222");

  g.append("rect")
    .attr("width", size)
    .attr("height", size)
    .attr("fill", "none")
    .attr("stroke", "#000");

  var t = svg.append("text")
      .attr("font-weight", "bold")
      .attr("font-size", 25)
      .text(titles[i]);
  fit(t, titleBox[i][0], 40, titleBox[i][1]);

  var xt = svg.append("text")
      .attr("font-weight", "bold")
      .attr("font-size", 23)
      .text(xTitle);
  fit(xt, xTitleBox[i][0], 360, xTitleBox[i][1]);

  if (percents[i]) {
    var p = svg.append("text")
        .attr("font-weight", "bold")
        .attr("font-size", 25)
        .text(percents[i]);
    fit(p, pctBox[i][0], 93.5, pctBox[i][1]);
  }
});

// y title, only on the first panel
var yt = svg.append("text")
    .attr("font-weight", "bold")
    .attr("font-size", 23);
yt.append("tspan").text("anti-human IgG");
yt.append("tspan").attr("font-size", 15).attr("dy", 5).text("1");
yt.append("tspan").attr("dy", -5).text("-PE");
fit(yt, 34, 168, 250, true);
</script>
</body>
</html>
